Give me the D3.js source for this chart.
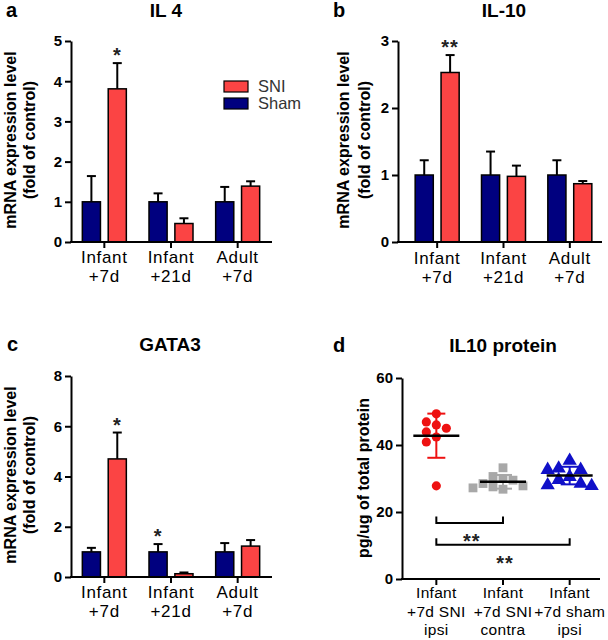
<!DOCTYPE html>
<html><head><meta charset="utf-8">
<script src="https://cdn.jsdelivr.net/npm/d3@7"></script>
<style>
body{margin:0;background:#fff}
svg{font-family:"Liberation Sans",Arial,Helvetica,sans-serif}
</style>
</head><body>
<svg id="chart" width="608" height="640"></svg>
<script>
// ---------- DATA ----------
const groupLabels = [["Infant","+7d"],["Infant","+21d"],["Adult","+7d"]];
const seriesNames = ["Sham","SNI"];
const seriesColors = ["#00007f","#fb4444"];
const legendOrder = ["SNI","Sham"];

const il4Ticks = [0,1,2,3,4,5];
const il4Sham = [1.0,1.0,1.0];
const il4ShamErr = [0.64,0.21,0.37];
const il4SNI = [3.81,0.46,1.39];
const il4SNIErr = [0.64,0.13,0.12];
const il4ShamStars = ["","",""];
const il4SNIStars = ["*","",""];

const il10Ticks = [0,1,2,3];
const il10Sham = [1.0,1.0,1.0];
const il10ShamErr = [0.22,0.35,0.22];
const il10SNI = [2.53,0.98,0.87];
const il10SNIErr = [0.26,0.16,0.04];
const il10ShamStars = ["","",""];
const il10SNIStars = ["**","",""];

const gata3Ticks = [0,2,4,6,8];
const gata3Sham = [1.0,1.0,1.0];
const gata3ShamErr = [0.16,0.31,0.35];
const gata3SNI = [4.7,0.13,1.23];
const gata3SNIErr = [1.05,0.05,0.24];
const gata3ShamStars = ["","*",""];
const gata3SNIStars = ["*","",""];

const proteinTicks = [0,20,40,60];
const proteinGroups = [["Infant","+7d SNI","ipsi"],["Infant","+7d SNI","contra"],["Infant","+7d sham","ipsi"]];
const sniIpsi = [49.3,46.9,46.0,45.0,43.9,42.4,40.9,27.8];
const sniContra = [33.2,30.6,30.0,29.5,28.5,27.8,27.2,26.8,27.5];
const shamIpsi = [35.3,33.0,32.6,32.6,30.5,29.6,28.0,27.8,28.5];
const proteinColors = ["#ee1111","#a8a8a8","#1010c8"];
const proteinSymbols = ["circle","square","triangle"];
const comparisons = [{a:0,b:1,v:16.7,label:"**"},{a:0,b:2,v:10.2,label:"**"}];

// ---------- DRAW ----------
const svg = d3.select("#chart");

function text(g, x, y, str, size, weight, anchor, extra) {
  const t = g.append("text").attr("x", x).attr("y", y).text(str)
    .attr("font-size", size).attr("font-weight", weight || "normal")
    .attr("text-anchor", anchor || "middle").attr("fill", "#000");
  if (extra) extra(t);
  return t;
}

function yAxis(g, y, ticks, axisX, fmt) {
  const ax = g.append("g").attr("transform", `translate(${axisX},0)`)
    .call(d3.axisLeft(y).tickValues(ticks).tickSize(6).tickSizeOuter(0).tickPadding(3).tickFormat(fmt || d3.format("d")));
  ax.select(".domain").attr("stroke-width", 2).attr("stroke", "#000");
  ax.selectAll(".tick line").attr("stroke-width", 2).attr("stroke", "#000");
  ax.selectAll(".tick text").attr("font-size", 15).attr("font-weight", "bold")
    .attr("fill", "#000").attr("font-family", '"Liberation Sans",Arial,sans-serif');
  return ax;
}

function xAxis(g, x, axisX, xEnd, yBase) {
  g.append("line").attr("x1", axisX - 1).attr("x2", xEnd).attr("y1", yBase).attr("y2", yBase)
    .attr("stroke", "#000").attr("stroke-width", 2);
  g.selectAll(null).data(x.domain()).join("line")
    .attr("x1", d => x(d) + x.bandwidth()/2).attr("x2", d => x(d) + x.bandwidth()/2)
    .attr("y1", yBase).attr("y2", yBase + 6).attr("stroke", "#000").attr("stroke-width", 2);
}

function yLabel(g, cx, cy, lines, b1, gap, size) {
  const t = g.append("text").attr("transform", `translate(${b1},${cy}) rotate(-90)`)
    .attr("text-anchor", "middle").attr("font-size", size || 16).attr("font-weight", "bold").attr("fill", "#000");
  lines.forEach((l, i) => t.append("tspan").attr("x", 0).attr("y", i * gap).text(l));
}

function barPanel(o) {
  const g = svg.append("g");
  const y = d3.scaleLinear().domain([o.ticks[0], o.ticks[o.ticks.length - 1]]).range([o.yBot, o.yTop]);
  const x = d3.scaleBand().domain(d3.range(groupLabels.length)).range(o.bandRange);
  const xi = d3.scaleBand().domain(seriesNames).range([-22, 22]).paddingInner(0.3);
  const color = d3.scaleOrdinal().domain(seriesNames).range(seriesColors);
  const rows = [];
  groupLabels.forEach((gl, i) => {
    rows.push({g: i, s: "Sham", v: o.sham[i], e: o.shamErr[i], star: o.shamStars[i]});
    rows.push({g: i, s: "SNI", v: o.sni[i], e: o.sniErr[i], star: o.sniStars[i]});
  });
  const cx = d => x(d.g) + x.bandwidth()/2 + xi(d.s) + xi.bandwidth()/2;
  g.selectAll(null).data(rows).join("line")
    .attr("x1", cx).attr("x2", cx).attr("y1", d => y(d.v)).attr("y2", d => y(d.v + d.e))
    .attr("stroke", "#000").attr("stroke-width", 2);
  g.selectAll(null).data(rows).join("line")
    .attr("x1", d => cx(d) - 4.5).attr("x2", d => cx(d) + 4.5)
    .attr("y1", d => y(d.v + d.e)).attr("y2", d => y(d.v + d.e))
    .attr("stroke", "#000").attr("stroke-width", 2);
  g.selectAll(null).data(rows).join("rect")
    .attr("x", d => x(d.g) + x.bandwidth()/2 + xi(d.s)).attr("width", xi.bandwidth())
    .attr("y", d => y(d.v)).attr("height", d => y(0) - y(d.v))
    .attr("fill", d => color(d.s)).attr("stroke", "#000").attr("stroke-width", 1.5);
  g.selectAll(null).data(rows.filter(d => d.star)).join("text")
    .attr("x", cx).attr("y", d => y(d.v + d.e) - 1).text(d => d.star)
    .attr("text-anchor", "middle").attr("font-size", 20).attr("font-weight", "bold")
    .attr("letter-spacing", 1).attr("fill", "#222");
  yAxis(g, y, o.ticks, o.axisX);
  xAxis(g, x, o.axisX, o.xEnd, o.yBot);
  groupLabels.forEach((gl, i) => {
    gl.forEach((l, j) => text(g, x(i) + x.bandwidth()/2, o.labelY + j * 19, l, 17, "normal", "middle",
      t => t.attr("letter-spacing", 0.7)));
  });
  text(g, o.titleX, o.titleY, o.title, 19, "bold");
  text(g, o.letterX, o.titleY, o.letter, 20, "bold", "start");
  yLabel(g, 0, o.ylCy, ["mRNA expression level", "(fold of control)"], o.ylX, o.ylGap);
  return {g, x, y};
}

const pa = barPanel({axisX: 71, xEnd: 272, bandRange: [71, 271], yTop: 41, yBot: 242, ticks: il4Ticks,
  sham: il4Sham, shamErr: il4ShamErr, sni: il4SNI, sniErr: il4SNIErr, shamStars: il4ShamStars, sniStars: il4SNIStars,
  labelY: 263, title: "IL 4", titleX: 166, titleY: 17, letter: "a", letterX: 6, ylCy: 140, ylX: 16, ylGap: 19});

barPanel({axisX: 398, xEnd: 602, bandRange: [404, 603], yTop: 41, yBot: 242, ticks: il10Ticks,
  sham: il10Sham, shamErr: il10ShamErr, sni: il10SNI, sniErr: il10SNIErr, shamStars: il10ShamStars, sniStars: il10SNIStars,
  labelY: 264, title: "IL-10", titleX: 504, titleY: 17, letter: "b", letterX: 333, ylCy: 140, ylX: 349, ylGap: 21});

barPanel({axisX: 71, xEnd: 272, bandRange: [71, 271], yTop: 376, yBot: 577, ticks: gata3Ticks,
  sham: gata3Sham, shamErr: gata3ShamErr, sni: gata3SNI, sniErr: gata3SNIErr, shamStars: gata3ShamStars, sniStars: gata3SNIStars,
  labelY: 598, title: "GATA3", titleX: 170, titleY: 351, letter: "c", letterX: 7, ylCy: 475, ylX: 16, ylGap: 19});

// legend (panel a)
{
  const lg = pa.g.append("g");
  const color = d3.scaleOrdinal().domain(seriesNames).range(seriesColors);
  legendOrder.forEach((s, i) => {
    lg.append("rect").attr("x", 224).attr("y", 81 + i * 17).attr("width", 24).attr("height", 11)
      .attr("fill", color(s)).attr("stroke", "#000").attr("stroke-width", 1.2);
    lg.append("text").attr("x", 258).attr("y", 92 + i * 17).text(s)
      .attr("font-size", 16.5).attr("fill", "#333");
  });
}

// ---------- panel d ----------
{
  const g = svg.append("g");
  const axisX = 402, yTop = 378, yBot = 579;
  const y = d3.scaleLinear().domain([proteinTicks[0], proteinTicks[proteinTicks.length - 1]]).range([yBot, yTop]);
  const x = d3.scaleBand().domain(d3.range(proteinGroups.length)).range([403, 603]);
  const sets = [sniIpsi, sniContra, shamIpsi];
  const symType = {circle: d3.symbolCircle, square: d3.symbolSquare, triangle: d3.symbolTriangle};
  const symSize = {circle: 66, square: 78, triangle: 88};
  const symDiam = {circle: 9.2, square: 10, triangle: 10.5};
  const symStep = {circle: 10, square: 10, triangle: 11};

  sets.forEach((vals, gi) => {
    const cx = x(gi) + x.bandwidth()/2;
    const sym = proteinSymbols[gi];
    const diam = symDiam[sym], step = symStep[sym];
    const order = vals.map((v, i) => ({v, i})).sort((a, b) => b.v - a.v);
    const placed = [];
    order.forEach(p => {
      const py = y(p.v);
      for (let k = 0; k < 20; k++) {
        const off = (k === 0 ? 0 : (k % 2 ? -1 : 1) * Math.ceil(k / 2)) * step;
        const ok = placed.every(q => Math.hypot(q.px - off, q.py - py) >= diam);
        if (ok) { placed.push({px: off, py, v: p.v}); break; }
      }
    });
    g.selectAll(null).data(placed).join("path")
      .attr("d", d3.symbol().type(symType[sym]).size(symSize[sym]))
      .attr("transform", d => `translate(${cx + d.px},${d.py})`)
      .attr("fill", proteinColors[gi]);
    const m = d3.mean(vals), sd = d3.deviation(vals);
    g.append("line").attr("x1", cx).attr("x2", cx).attr("y1", y(m - sd)).attr("y2", y(m + sd))
      .attr("stroke", proteinColors[gi]).attr("stroke-width", 2);
    [m - sd, m + sd].forEach(v => g.append("line").attr("x1", cx - 9).attr("x2", cx + 9)
      .attr("y1", y(v)).attr("y2", y(v)).attr("stroke", proteinColors[gi]).attr("stroke-width", 2));
    g.append("line").attr("x1", cx - 23).attr("x2", cx + 23).attr("y1", y(m)).attr("y2", y(m))
      .attr("stroke", "#000").attr("stroke-width", 2.5);
    proteinGroups[gi].forEach((l, j) => text(g, cx, 598 + j * 18.5, l, 15.5, "normal", "middle",
      t => t.attr("letter-spacing", 0.3)));
  });

  comparisons.forEach(c => {
    const xa = x(c.a) + x.bandwidth()/2, xb = x(c.b) + x.bandwidth()/2, yy = y(c.v);
    g.append("path").attr("d", `M${xa},${yy - 6.5}V${yy}H${xb}V${yy - 6.5}`)
      .attr("fill", "none").attr("stroke", "#000").attr("stroke-width", 2);
    text(g, (xa + xb)/2 + 2, yy + 25, c.label, 20, "bold", "middle",
      t => t.attr("letter-spacing", 1).attr("fill", "#222"));
  });

  yAxis(g, y, proteinTicks, axisX);
  xAxis(g, x, axisX, 600, yBot);
  text(g, 503, 352, "IL10 protein", 19, "bold");
  text(g, 333, 352, "d", 20, "bold", "start");
  yLabel(g, 0, 478, ["pg/ug of total protein"], 369, 0, 16);
}
</script>
</body></html>
